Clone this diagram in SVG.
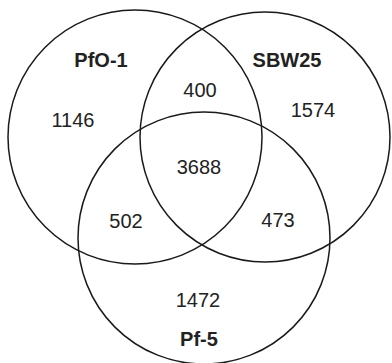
<svg xmlns="http://www.w3.org/2000/svg" width="392" height="363" viewBox="0 0 392 363">
<style>
.c{fill:none;stroke:#1a1a1a;stroke-width:1.5}
.n{font-family:"Liberation Sans",Arial,sans-serif;font-size:20px;fill:#222;text-anchor:middle}
.b{font-weight:bold}
</style>
<rect width="392" height="363" fill="#fff"/>
<g id="PfO-1"><circle class="c" cx="135" cy="137" r="127"/><text class="n b" x="101" y="67">PfO-1</text></g>
<g id="SBW25"><circle class="c" cx="265" cy="137" r="125"/><text class="n b" x="287" y="67">SBW25</text></g>
<g id="Pf-5"><circle class="c" cx="204" cy="238" r="126"/><text class="n b" x="199" y="346">Pf-5</text></g>
<g id="regions">
<text class="n" x="73" y="127">1146</text>
<text class="n" x="200" y="97">400</text>
<text class="n" x="313" y="117">1574</text>
<text class="n" x="199" y="174">3688</text>
<text class="n" x="126" y="228">502</text>
<text class="n" x="278" y="227">473</text>
<text class="n" x="198" y="307">1472</text>
</g>
</svg>
